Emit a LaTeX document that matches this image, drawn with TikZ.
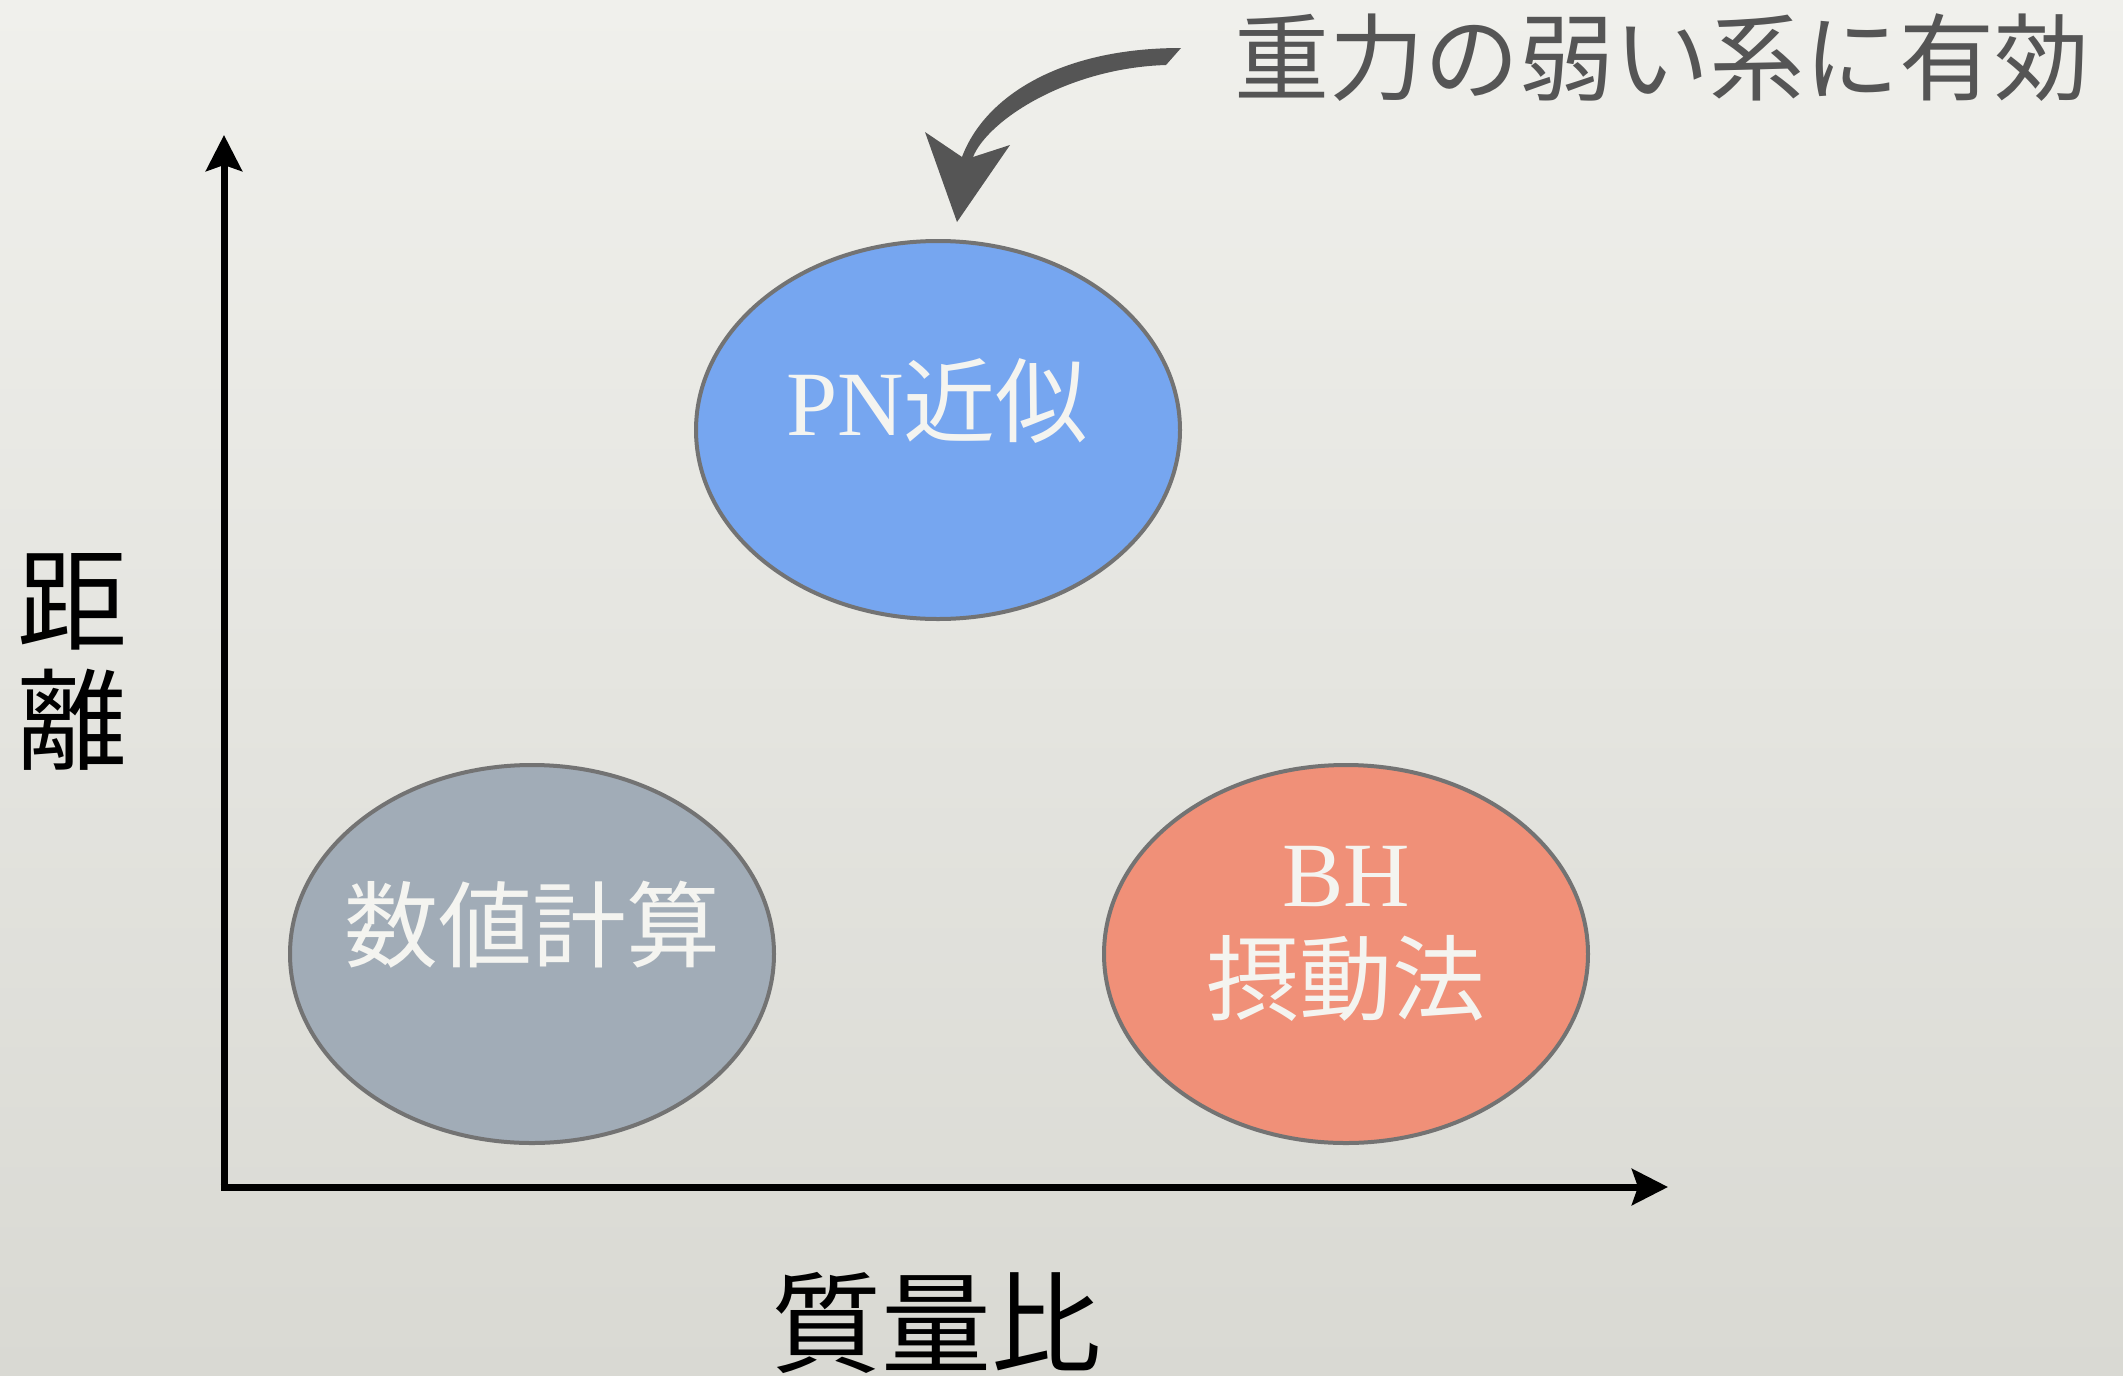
\documentclass[tikz,border=0pt]{standalone}
\usepackage{fontspec}
\newfontfamily\jp{Noto Sans CJK JP}
\newfontfamily\lat{Liberation Serif}
\usetikzlibrary{arrows.meta,shapes.geometric}
\definecolor{bgtop}{HTML}{F0F0EC}
\definecolor{bgbot}{HTML}{D9D9D3}
\definecolor{pnblue}{HTML}{76A6F0}
\definecolor{numgray}{HTML}{A1ACB7}
\definecolor{bhred}{HTML}{F09078}
\definecolor{rimgray}{HTML}{737373}
\definecolor{labwhite}{HTML}{F4F4F0}
\definecolor{notegray}{HTML}{555555}
\tikzset{
  blob/.style={ellipse, draw=rimgray, line width=4pt, minimum width=484pt, minimum height=378pt, inner sep=0pt},
  axis/.style={line width=7pt, -{Stealth[length=36pt,width=36pt,inset=6pt]}},
  inlabel/.style={text=labwhite, anchor=base, inner sep=0pt},
  outlabel/.style={text=black, anchor=base, inner sep=0pt},
}
\begin{document}
\begin{tikzpicture}[x=1pt,y=-1pt]
\useasboundingbox (0,0) rectangle (2123,1376);
\shade[top color=bgtop, bottom color=bgbot] (0,0) rectangle (2123,1376);

% ellipses
\node[blob, fill=pnblue] (pn) at (938,430) {};
\node[blob, fill=numgray] (num) at (532,954) {};
\node[blob, fill=bhred] (bh) at (1346,954) {};

% labels in ellipses
\node[inlabel] (pnlab) at (937,435) {\fontsize{92pt}{100pt}\selectfont\lat PN\jp 近似};
\node[inlabel] (numlab) at (532,960) {\fontsize{94pt}{100pt}\selectfont\jp 数値計算};
\node[inlabel] (bhlabA) at (1346,906) {\fontsize{92pt}{100pt}\selectfont\lat BH};
\node[inlabel] (bhlabB) at (1346,1013) {\fontsize{93pt}{100pt}\selectfont\jp 摂動法};

% axes
\coordinate (O) at (224,1187);
\coordinate (ytop) at (224,135);
\coordinate (xend) at (1668,1187);
\draw[axis] ([yshift=-3.5pt]O) -- (ytop);
\draw[axis] ([xshift=-3.5pt]O) -- (xend);

% axis labels
\node[outlabel] (dist1) at (72,641) {\fontsize{110pt}{110pt}\selectfont\jp 距};
\node[outlabel] (dist2) at (72,761) {\fontsize{110pt}{110pt}\selectfont\jp 離};
\node[outlabel] (mass) at (936,1364) {\fontsize{110pt}{110pt}\selectfont\jp 質量比};

% note and curved arrow
\node[text=notegray, anchor=base, inner sep=0pt] (note) at (1662,93) {\fontsize{95pt}{100pt}\selectfont\jp 重力の弱い系に有効};
\fill[notegray] (1181,48) .. controls (1058,48) and (984,98) .. (962,157)
  -- (925,132) -- (957,222) -- (1010,145) -- (973,157)
  .. controls (988,120) and (1068,68) .. (1166,65) -- cycle;
\end{tikzpicture}
\end{document}
